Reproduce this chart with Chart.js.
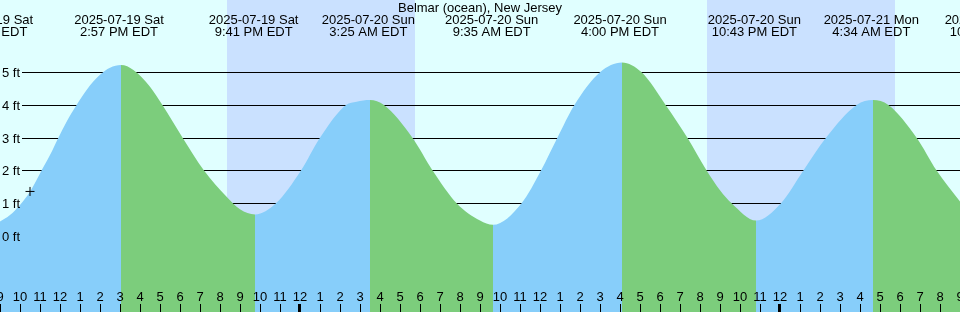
<!DOCTYPE html>
<html>
<head>
<meta charset="utf-8">
<script src="https://cdn.jsdelivr.net/npm/chart.js@4.4.1/dist/chart.umd.min.js"></script>
<style>
  html, body { margin: 0; padding: 0; background: #e0ffff; }
  canvas { display: block; }
</style>
</head>
<body>
<canvas id="tideChart" width="960" height="312"></canvas>
<script>
// horas contadas desde 2025-07-19 00:00 EDT
const stationName = 'Belmar (ocean), New Jersey';

// curva de maré
const tideHours = [9.0, 9.5, 10.0, 10.5, 11.0, 11.5, 11.92, 12.33, 12.83, 13.33, 14.0, 14.5, 15.05,
  15.67, 16.5, 17.12, 18.13, 19.2, 20.33, 21.0, 21.75,
  22.8, 24.05, 25.0, 26.3, 26.83, 27.5,
  28.2, 29.62, 30.63, 31.83, 33.0, 33.65,
  35.08, 36.05, 36.87, 37.72, 39.0, 40.1,
  41.08, 42.28, 43.37, 44.33, 45.0, 45.58, 46.8,
  48.05, 49.17, 50.3, 51.83, 52.65,
  53.42, 54.83, 55.83, 57.0];
const tideFeet = [0.44, 0.64, 0.95, 1.35, 1.91, 2.47, 3.0, 3.49, 4.0, 4.46, 4.92, 5.14, 5.22,
  5.07, 4.56, 4.0, 3.0, 2.0, 1.2, 0.82, 0.66,
  1.0, 2.0, 3.0, 4.0, 4.1, 4.15,
  4.0, 3.0, 2.0, 1.0, 0.47, 0.34,
  1.0, 2.0, 3.0, 4.0, 5.0, 5.30,
  5.0, 4.0, 3.0, 2.0, 1.40, 1.0, 0.47,
  1.0, 2.0, 3.0, 4.0, 4.15,
  4.0, 3.0, 2.0, 1.05];

// preamar / baixa-mar
const eventHours = [8.417, 14.95, 21.683, 27.417, 33.583, 40.0, 46.717, 52.567, 58.617];
const eventDates = ['2025-07-19 Sat', '2025-07-19 Sat', '2025-07-19 Sat', '2025-07-20 Sun', '2025-07-20 Sun',
  '2025-07-20 Sun', '2025-07-20 Sun', '2025-07-21 Mon', '2025-07-21 Mon'];
const eventTimes = ['8:25 AM EDT', '2:57 PM EDT', '9:41 PM EDT', '3:25 AM EDT', '9:35 AM EDT',
  '4:00 PM EDT', '10:43 PM EDT', '4:34 AM EDT', '10:37 AM EDT'];

// noite
const nightStart = [20.35, 44.35];
const nightEnd = [29.75, 53.75];

// hora atual
const nowHour = 10.5;
const nowFeet = 1.36;

// eixos
const levelTicks = [0, 1, 2, 3, 4, 5];
const hourTicks = [9, 10, 11, 12, 13, 14, 15, 16, 17, 18, 19, 20, 21, 22, 23, 24, 25, 26, 27, 28, 29, 30,
  31, 32, 33, 34, 35, 36, 37, 38, 39, 40, 41, 42, 43, 44, 45, 46, 47, 48, 49, 50, 51, 52, 53, 54, 55, 56, 57];
const hourLabels = ['9', '10', '11', '12', '1', '2', '3', '4', '5', '6', '7', '8', '9', '10', '11', '12',
  '1', '2', '3', '4', '5', '6', '7', '8', '9', '10', '11', '12', '1', '2', '3', '4', '5', '6', '7', '8',
  '9', '10', '11', '12', '1', '2', '3', '4', '5', '6', '7', '8', '9'];
const midnightHours = [24, 48];

const FLOOD = 'rgb(135,206,250)';
const EBB = 'rgb(124,205,124)';
const FONT = '13px "Liberation Sans"';

const tideDecor = {
    id: 'tideDecor',
    beforeDatasetsDraw(chart) {
        const {ctx, width, height} = chart;
        const {x, y} = chart.scales;
        ctx.save();
        ctx.fillStyle = '#e0ffff';
        ctx.fillRect(0, 0, width, height);
        ctx.fillStyle = 'rgb(202,225,255)';
        nightStart.forEach(function(s, i) {
            const x0 = Math.round(x.getPixelForValue(s));
            const x1 = Math.round(x.getPixelForValue(nightEnd[i]));
            ctx.fillRect(x0, 0, x1 - x0, height);
        });
        ctx.strokeStyle = '#000';
        ctx.lineWidth = 1;
        levelTicks.forEach(function(v) {
            const py = Math.round(y.getPixelForValue(v)) + 0.5;
            ctx.beginPath();
            ctx.moveTo(22, py);
            ctx.lineTo(width, py);
            ctx.stroke();
        });
        ctx.restore();
    },
    afterDatasetsDraw(chart) {
        const {ctx, width} = chart;
        const {x, y} = chart.scales;
        ctx.save();
        ctx.fillStyle = '#000';
        ctx.font = FONT;
        ctx.textBaseline = 'alphabetic';

        // nível
        ctx.textAlign = 'left';
        levelTicks.forEach(function(v) {
            const py = Math.round(y.getPixelForValue(v));
            ctx.fillText(v + ' ft', 2, py + 5);
        });

        // título e eventos
        ctx.textAlign = 'center';
        ctx.fillText(stationName, width / 2, 12);
        eventHours.forEach(function(h, i) {
            const px = x.getPixelForValue(h);
            ctx.fillText(eventDates[i], px, 24);
            ctx.fillText(eventTimes[i], px, 36);
        });

        // horas
        hourTicks.forEach(function(h, i) {
            const px = Math.round(x.getPixelForValue(h));
            ctx.fillText(hourLabels[i], px, 301);
            if (midnightHours.includes(h)) {
                ctx.fillRect(px - 2, 304, 3, 8);
            } else {
                ctx.fillRect(px, 304, 1, 8);
            }
        });
        ctx.restore();
    }
};

const ctx = document.getElementById('tideChart').getContext('2d');
new Chart(ctx, {
    type: 'line',
    data: {
        datasets: [{
            data: [{x: nowHour, y: nowFeet}],
            showLine: false,
            pointStyle: 'cross',
            pointRadius: 4.5,
            borderColor: '#000',
            borderWidth: 1,
            order: 0
        }, {
            data: tideHours.map(function(h, i) { return {x: h, y: tideFeet[i]}; }),
            cubicInterpolationMode: 'monotone',
            borderWidth: 0,
            borderColor: 'rgba(0,0,0,0)',
            pointRadius: 0,
            fill: 'start',
            backgroundColor: FLOOD,
            segment: {
                backgroundColor: function(c) {
                    return c.p1.parsed.y > c.p0.parsed.y ? FLOOD : EBB;
                }
            },
            order: 1
        }]
    },
    options: {
        responsive: false,
        animation: false,
        layout: { padding: 0, autoPadding: false },
        plugins: {
            legend: { display: false },
            tooltip: { enabled: false }
        },
        scales: {
            x: { type: 'linear', min: 9, max: 57, display: false },
            y: { min: -2.321, max: 7.206, display: false }
        }
    },
    plugins: [tideDecor]
});
</script>
</body>
</html>
